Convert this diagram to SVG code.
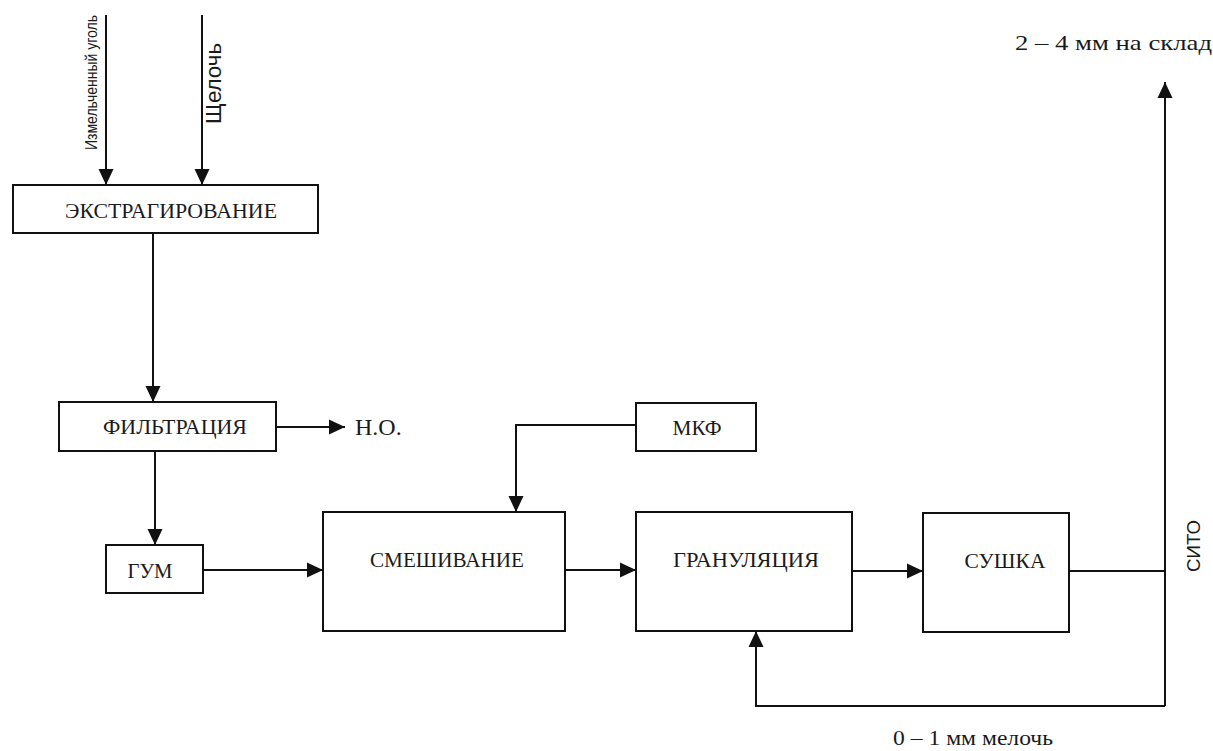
<svg xmlns="http://www.w3.org/2000/svg" width="1213" height="751" viewBox="0 0 1213 751">
<defs>
<marker id="arr" markerUnits="userSpaceOnUse" markerWidth="18" markerHeight="18" viewBox="0 0 18 18" refX="17" refY="9" orient="auto">
<path d="M1,1.5 L17,9 L1,16.5 Z" fill="#111"/>
</marker>
<style>
.box{fill:#fff;stroke:#111;stroke-width:2}
.ln{fill:none;stroke:#111;stroke-width:2}
.t{font-family:"Liberation Serif","Times New Roman",serif;fill:#1a1a1a;text-anchor:middle}
.s{font-family:"Liberation Sans",Arial,sans-serif;fill:#1a1a1a}
</style>
</defs>
<rect width="1213" height="751" fill="#fff"/>
<g id="connectors">
<path class="ln" d="M106,15 V185" marker-end="url(#arr)"/>
<path class="ln" d="M202,15 V185" marker-end="url(#arr)"/>
<path class="ln" d="M153,233 V402" marker-end="url(#arr)"/>
<path class="ln" d="M276,427 H345" marker-end="url(#arr)"/>
<path class="ln" d="M155,451 V545" marker-end="url(#arr)"/>
<path class="ln" d="M203,570 H323" marker-end="url(#arr)"/>
<path class="ln" d="M636,425 H516 V512" marker-end="url(#arr)"/>
<path class="ln" d="M565,570 H636" marker-end="url(#arr)"/>
<path class="ln" d="M852,571 H923" marker-end="url(#arr)"/>
<path class="ln" d="M1069,571 H1165"/>
<path class="ln" d="M1165,706 V82" marker-end="url(#arr)"/>
<path class="ln" d="M1165,706 H756 V631" marker-end="url(#arr)"/>
</g>
<g id="input-coal">
<text class="s" transform="translate(97,150) rotate(-90)" font-size="17" textLength="135" lengthAdjust="spacingAndGlyphs">Измельченный уголь</text>
</g>
<g id="input-alkali">
<text class="s" transform="translate(221,124) rotate(-90)" font-size="22" textLength="81" lengthAdjust="spacingAndGlyphs">Щелочь</text>
</g>
<g id="extraction">
<rect class="box" x="13" y="185" width="305" height="48"/>
<text class="t" x="171" y="218" font-size="21" textLength="212" lengthAdjust="spacingAndGlyphs">ЭКСТРАГИРОВАНИЕ</text>
</g>
<g id="filtration">
<rect class="box" x="59" y="402" width="217" height="49"/>
<text class="t" x="175" y="434" font-size="21" textLength="144" lengthAdjust="spacingAndGlyphs">ФИЛЬТРАЦИЯ</text>
</g>
<g id="no">
<text class="t" x="355" y="435" font-size="24" style="text-anchor:start">Н.О.</text>
</g>
<g id="gum">
<rect class="box" x="106" y="545" width="97" height="48"/>
<text class="t" x="150" y="578" font-size="21" textLength="45" lengthAdjust="spacingAndGlyphs">ГУМ</text>
</g>
<g id="mixing">
<rect class="box" x="323" y="512" width="242" height="119"/>
<text class="t" x="447" y="567" font-size="21" textLength="154" lengthAdjust="spacingAndGlyphs">СМЕШИВАНИЕ</text>
</g>
<g id="mkf">
<rect class="box" x="636" y="403" width="120" height="48"/>
<text class="t" x="697" y="435" font-size="21" textLength="49" lengthAdjust="spacingAndGlyphs">МКФ</text>
</g>
<g id="granulation">
<rect class="box" x="636" y="512" width="216" height="119"/>
<text class="t" x="746" y="567" font-size="21" textLength="146" lengthAdjust="spacingAndGlyphs">ГРАНУЛЯЦИЯ</text>
</g>
<g id="drying">
<rect class="box" x="923" y="513" width="146" height="119"/>
<text class="t" x="1005" y="568" font-size="21" textLength="81" lengthAdjust="spacingAndGlyphs">СУШКА</text>
</g>
<g id="sieve">
<text class="s" transform="translate(1200,572) rotate(-90)" font-size="19" textLength="52" lengthAdjust="spacingAndGlyphs">СИТО</text>
</g>
<g id="product">
<text class="t" x="1015" y="50" font-size="22" style="text-anchor:start" textLength="197" lengthAdjust="spacingAndGlyphs">2 – 4 мм на склад</text>
</g>
<g id="fines">
<text class="t" x="893" y="745" font-size="22" style="text-anchor:start" textLength="160" lengthAdjust="spacingAndGlyphs">0 – 1 мм мелочь</text>
</g>
</svg>
